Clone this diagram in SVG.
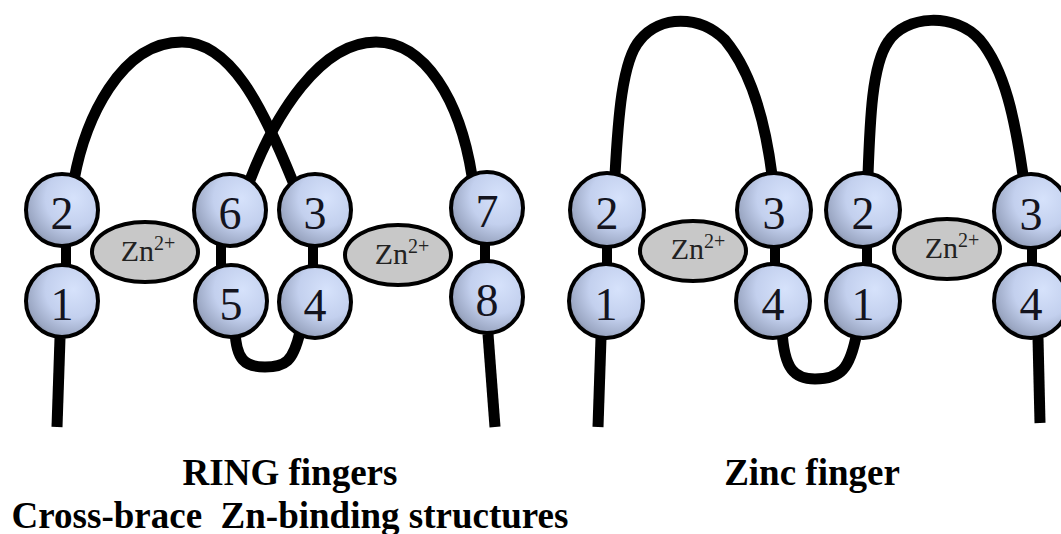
<svg xmlns="http://www.w3.org/2000/svg" width="1061" height="534" viewBox="0 0 1061 534">
  <defs>
    <radialGradient id="ball" cx="0.66" cy="0.34" r="0.78">
      <stop offset="0" stop-color="#d6e2fb"/>
      <stop offset="0.5" stop-color="#c3d0ee"/>
      <stop offset="0.85" stop-color="#9aa6c2"/>
      <stop offset="1" stop-color="#6c7383"/>
    </radialGradient>
    <style>
      .strand { fill: none; stroke: #000; stroke-width: 11; stroke-linecap: butt; }
      .link { fill: none; stroke: #000; stroke-width: 10; }
      .res { fill: url(#ball); stroke: #000; stroke-width: 4; }
      .zn { fill: #c8c8c8; stroke: #000; stroke-width: 4; }
      .num { font-size: 46px; fill: #14141e; text-anchor: middle; }
      .znt { font-size: 30px; fill: #222; text-anchor: middle; }
      .sup { font-size: 20px; }
      .title { font-size: 37px; font-weight: bold; fill: #000; text-anchor: middle; }
    </style>
  </defs>
  <rect width="1061" height="534" fill="#fff"/>

  <g id="connectors">
    <!-- RING finger -->
    <path class="strand" d="M60,338 L57,427"/>
    <path class="strand" d="M488,334 L495,427"/>
    <path class="strand" d="M74,180 C85,120 120,42 182,42 C230,42 262,105 293,182"/>
    <path class="strand" d="M250,180 C275,115 320,42 376,42 C425,42 460,100 472,176"/>
    <path class="strand" d="M235,330 C236,360 245,367 265,367 C285,367 293,362 300,332"/>
    <path class="link" d="M66,240 L66,272"/>
    <path class="link" d="M221,240 L221,272"/>
    <path class="link" d="M313,240 L313,272"/>
    <path class="link" d="M485,238 L485,268"/>
    <!-- Zinc finger -->
    <path class="strand" d="M601,338 L598,427"/>
    <path class="strand" d="M1038,338 L1040,423"/>
    <path class="strand" d="M615,175 C618,120 622,60 640,40 C660,15 700,15 725,40 C750,70 765,120 772,175"/>
    <path class="strand" d="M868,175 C870,120 872,65 888,42 C905,15 955,12 980,40 C1005,70 1015,120 1023,175"/>
    <path class="strand" d="M782,330 C784,370 795,379 815,379 C840,379 850,370 857,332"/>
    <path class="link" d="M607,240 L607,272"/>
    <path class="link" d="M775,240 L775,272"/>
    <path class="link" d="M867,240 L867,272"/>
    <path class="link" d="M1032,240 L1032,272"/>
  </g>

  <g font-family="'Liberation Serif', Tinos, 'Times New Roman', 'DejaVu Serif', serif">
  <!-- RING finger nodes -->
  <g id="ring-res2"><circle class="res" cx="62" cy="210" r="36"/><text class="num" x="62" y="229">2</text></g>
  <g id="ring-res1"><circle class="res" cx="62" cy="301" r="36"/><text class="num" x="62" y="320">1</text></g>
  <g id="ring-res6"><circle class="res" cx="230" cy="210" r="36"/><text class="num" x="230" y="229">6</text></g>
  <g id="ring-res5"><circle class="res" cx="231" cy="301" r="36"/><text class="num" x="231" y="320">5</text></g>
  <g id="ring-res3"><circle class="res" cx="315" cy="210" r="36"/><text class="num" x="315" y="229">3</text></g>
  <g id="ring-res4"><circle class="res" cx="315" cy="302" r="36"/><text class="num" x="315" y="321">4</text></g>
  <g id="ring-res7"><circle class="res" cx="487" cy="208" r="36"/><text class="num" x="487" y="227">7</text></g>
  <g id="ring-res8"><circle class="res" cx="487" cy="297" r="36"/><text class="num" x="487" y="316">8</text></g>
  <g id="ring-zn1"><ellipse class="zn" cx="145" cy="252" rx="53" ry="30"/><text class="znt" x="148" y="261">Zn<tspan class="sup" dy="-11">2+</tspan></text></g>
  <g id="ring-zn2"><ellipse class="zn" cx="398" cy="255" rx="53" ry="30"/><text class="znt" x="402" y="264">Zn<tspan class="sup" dy="-11">2+</tspan></text></g>

  <!-- Zinc finger nodes -->
  <g id="zf-res2a"><circle class="res" cx="607" cy="210" r="37"/><text class="num" x="607" y="229">2</text></g>
  <g id="zf-res1a"><circle class="res" cx="606" cy="301" r="37"/><text class="num" x="606" y="320">1</text></g>
  <g id="zf-res3a"><circle class="res" cx="774" cy="210" r="37"/><text class="num" x="774" y="229">3</text></g>
  <g id="zf-res4a"><circle class="res" cx="773" cy="301" r="37"/><text class="num" x="773" y="320">4</text></g>
  <g id="zf-res2b"><circle class="res" cx="863" cy="210" r="37"/><text class="num" x="863" y="229">2</text></g>
  <g id="zf-res1b"><circle class="res" cx="863" cy="301" r="37"/><text class="num" x="863" y="320">1</text></g>
  <g id="zf-res3b"><circle class="res" cx="1031" cy="211" r="37"/><text class="num" x="1031" y="230">3</text></g>
  <g id="zf-res4b"><circle class="res" cx="1031" cy="301" r="37"/><text class="num" x="1031" y="320">4</text></g>
  <g id="zf-zn1"><ellipse class="zn" cx="693" cy="251" rx="53" ry="30"/><text class="znt" x="698" y="259">Zn<tspan class="sup" dy="-11">2+</tspan></text></g>
  <g id="zf-zn2"><ellipse class="zn" cx="947" cy="249" rx="53" ry="30"/><text class="znt" x="952" y="258">Zn<tspan class="sup" dy="-11">2+</tspan></text></g>

  <g id="labels">
    <text class="title" x="290" y="485">RING fingers</text>
    <text class="title" x="290" y="528" xml:space="preserve">Cross-brace  Zn-binding structures</text>
    <text class="title" x="812" y="485">Zinc finger</text>
  </g>
  </g>
</svg>
